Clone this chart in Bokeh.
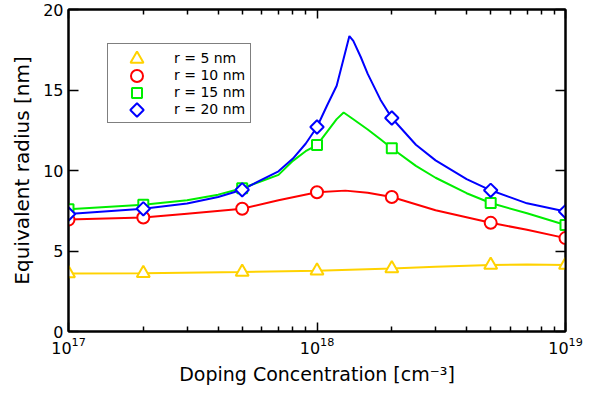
import math

from bokeh.plotting import figure
from bokeh.models import (FixedTicker, LogAxis, LinearAxis, LogTickFormatter,
                          CustomJSTickFormatter, Legend, LegendItem, Range1d,
                          LinearScale)
from bokeh.embed import file_html
from bokeh.resources import INLINE

# ---- data -------------------------------------------------------------
# doping concentrations (cm^-3) where the simulated points sit
doping = [1e17, 2e17, 5e17, 1e18, 2e18, 5e18, 1e19]
r5_pts = [3.61, 3.62, 3.70, 3.78, 3.92, 4.13, 4.13]
r10_pts = [6.95, 7.08, 7.62, 8.65, 8.35, 6.75, 5.80]
r15_pts = [7.60, 7.88, 8.90, 11.58, 11.38, 7.98, 6.62]
r20_pts = [7.30, 7.62, 8.80, 12.70, 13.26, 8.77, 7.45]

# fitted curves through the points
r5_x = [1e17, 2e17, 5e17, 1e18, 2e18, 3e18, 5e18, 7e18, 1e19]
r5_y = [3.61, 3.62, 3.70, 3.78, 3.92, 4.02, 4.13, 4.16, 4.13]
r10_x = [1e17, 2e17, 3e17, 5e17, 7e17, 1e18, 1.3e18, 1.6e18, 2e18, 3e18,
         5e18, 7e18, 1e19]
r10_y = [6.95, 7.08, 7.32, 7.62, 8.15, 8.65, 8.75, 8.62, 8.35, 7.53,
         6.75, 6.32, 5.80]
r15_x = [1e17, 2e17, 3e17, 4e17, 5e17, 6e17, 7e17, 8e17, 9e17, 1e18,
         1.2e18, 1.28e18, 1.4e18, 1.6e18, 1.8e18, 2e18, 2.5e18, 3e18,
         4e18, 5e18, 7e18, 1e19]
r15_y = [7.60, 7.88, 8.15, 8.50, 8.90, 9.35, 9.73, 10.60, 11.20, 11.58,
         13.19, 13.60, 13.18, 12.55, 11.94, 11.38, 10.29, 9.55,
         8.59, 7.98, 7.34, 6.62]
r20_x = [1e17, 2e17, 3e17, 4e17, 5e17, 6e17, 7e17, 8e17, 9e17, 1e18,
         1.1e18, 1.2e18, 1.3e18, 1.35e18, 1.4e18, 1.5e18, 1.6e18, 1.8e18,
         2e18, 2.5e18, 3e18, 4e18, 5e18, 7e18, 1e19]
r20_y = [7.30, 7.62, 7.95, 8.35, 8.80, 9.43, 9.95, 10.74, 11.66, 12.70,
         14.07, 15.26, 17.36, 18.35, 18.05, 17.05, 16.00, 14.40,
         13.26, 11.60, 10.63, 9.47, 8.77, 7.96, 7.45]

labels = ["r = 5 nm", "r = 10 nm", "r = 15 nm", "r = 20 nm"]
x_major = [1e17, 1e18, 1e19]
x_minor = [m * 10 ** e for e in (17, 18) for m in range(2, 10)]
y_major = [0, 5, 10, 15, 20]

# ---- styling ----------------------------------------------------------
FONT = "DejaVu Sans"
YELLOW, RED, GREEN, BLUE = "#ffd200", "#ff0000", "#00ee00", "#0000ff"
FRAME_W, FRAME_H = 497, 322

series = [
    (r5_x, r5_y, r5_pts, YELLOW, dict(marker="triangle", size=13, angle=0)),
    (r10_x, r10_y, r10_pts, RED, dict(marker="circle", size=12, angle=0)),
    (r15_x, r15_y, r15_pts, GREEN, dict(marker="square", size=10, angle=0)),
    (r20_x, r20_y, r20_pts, BLUE, dict(marker="square", size=9.5,
                                       angle=math.pi / 4)),
]

p = figure(frame_width=FRAME_W, frame_height=FRAME_H,
           x_axis_type="log", x_range=(1e17, 1e19), y_range=(0, 20),
           output_backend="svg", toolbar_location=None,
           min_border_left=68, min_border_right=37,
           min_border_top=9, min_border_bottom=70,
           background_fill_color="white", border_fill_color="white")
p.grid.visible = False
p.outline_line_color = "black"
p.outline_line_width = 2

# linear pixel-unit ranges over the frame, used for the key symbols
p.extra_x_ranges["fx"] = Range1d(0, FRAME_W)
p.extra_y_ranges["fy"] = Range1d(0, FRAME_H)
p.extra_x_scales["fx"] = LinearScale()
p.extra_y_scales["fy"] = LinearScale()

for xs, ys, pts, color, mk in series:
    p.line(xs, ys, line_color=color, line_width=2)
for xs, ys, pts, color, mk in series:
    p.scatter(doping, pts, line_color=color, fill_color="white",
              line_width=2, **mk)

# ---- axes -------------------------------------------------------------
def style_axis(ax, tick_len, minor_len):
    ax.axis_line_width = 2
    ax.axis_line_color = "black"
    ax.major_tick_line_width = 1.5
    ax.major_tick_line_color = "black"
    ax.major_tick_in = tick_len
    ax.major_tick_out = 0
    ax.minor_tick_line_width = 1.5
    ax.minor_tick_line_color = "black" if minor_len else None
    ax.minor_tick_in = minor_len
    ax.minor_tick_out = 0
    ax.major_label_text_font = FONT
    ax.major_label_text_font_size = "16px"
    ax.major_label_text_color = "black"
    ax.axis_label_text_font = FONT
    ax.axis_label_text_font_style = "normal"
    ax.axis_label_text_color = "black"

xt = FixedTicker(ticks=x_major, minor_ticks=x_minor)
yt = FixedTicker(ticks=y_major)

xa = p.xaxis[0]
xa.ticker = xt
xa.formatter = LogTickFormatter()
style_axis(xa, 9, 5)
xa.major_label_standoff = 5
xa.axis_label = "Doping Concentration [cm\u207b\u00b3]"
xa.axis_label_text_font_size = "19px"
xa.axis_label_standoff = 6

ya = p.yaxis[0]
ya.ticker = yt
style_axis(ya, 10, 0)
ya.major_label_standoff = 5
ya.axis_label = "Equivalent radius [nm]"
ya.axis_label_text_font_size = "20px"
ya.axis_label_standoff = 6

blank = CustomJSTickFormatter(code="return ''")
top = LogAxis(ticker=xt, formatter=blank)
style_axis(top, 9, 5)
top.major_label_text_font_size = "0px"
top.major_label_standoff = 0
p.add_layout(top, "above")

right = LinearAxis(ticker=yt, formatter=blank)
style_axis(right, 10, 0)
right.major_label_text_font_size = "0px"
right.major_label_standoff = 0
p.add_layout(right, "right")

# ---- legend -----------------------------------------------------------
LEG_X, LEG_Y = 39, 208
PAD, ROW_H, GLYPH_W = 5, 17, 49

items = []
for (xs, ys, pts, color, mk), lab in zip(series, labels):
    dummy = p.scatter([], [], line_alpha=0, fill_alpha=0)
    items.append(LegendItem(label=lab, renderers=[dummy]))

# transparent box so the key symbols underneath stay visible
legend = Legend(items=items, location=(LEG_X, LEG_Y), padding=PAD,
                spacing=0, margin=0, glyph_width=GLYPH_W,
                glyph_height=ROW_H, label_height=ROW_H, label_standoff=12,
                border_line_color="black", border_line_width=1.5,
                background_fill_alpha=0,
                label_text_font=FONT, label_text_font_size="14px",
                label_text_color="black")
p.add_layout(legend)

# key symbols inside the legend box
n = len(series)
key_x = LEG_X + PAD + GLYPH_W / 2
for i, (xs, ys, pts, color, mk) in enumerate(series):
    key_y = LEG_Y + PAD + (n - 1 - i) * ROW_H + ROW_H / 2
    p.scatter([key_x], [key_y], x_range_name="fx", y_range_name="fy",
              line_color=color, fill_color="white", line_width=2, **mk)

open("out.html", "w").write(file_html(p, INLINE))
